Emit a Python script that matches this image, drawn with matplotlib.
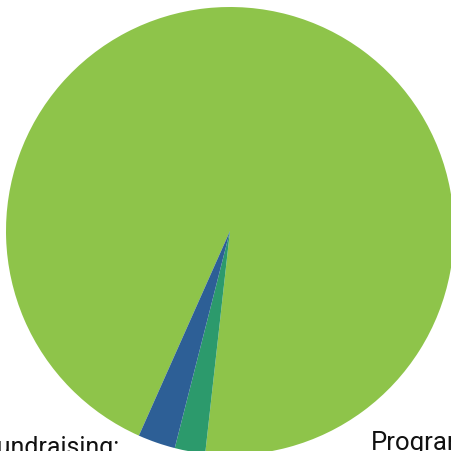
import matplotlib
matplotlib.use("Agg")
import matplotlib.pyplot as plt

# Functional expense breakdown
categories = ["Programs", "Management & General", "Fundraising"]
shares = [95.1, 2.2, 2.7]
colors = ["#8EC44A", "#2C9A6C", "#2D5F96"]

W, H = 452, 451
fig = plt.figure(figsize=(W / 100, H / 100), dpi=100)
ax = fig.add_axes([0, 0, 1, 1])

cx, cy, r = 230, 220, 224
ax.pie(shares, colors=colors, startangle=246, counterclock=False,
       center=(cx, cy), radius=r, frame=True,
       wedgeprops=dict(edgecolor="none", linewidth=0))
ax.set_xlim(0, W)
ax.set_ylim(0, H)
ax.set_aspect("equal")
ax.axis("off")

ax.text(119, -4.5, "Fundraising:", ha="right", va="baseline",
        fontsize=18, family="Roboto", color="#111111")
ax.text(371, 0.8, "Programs:", ha="left", va="baseline",
        fontsize=18.5, family="Roboto", color="#111111")

fig.savefig("out.png", dpi=100)
